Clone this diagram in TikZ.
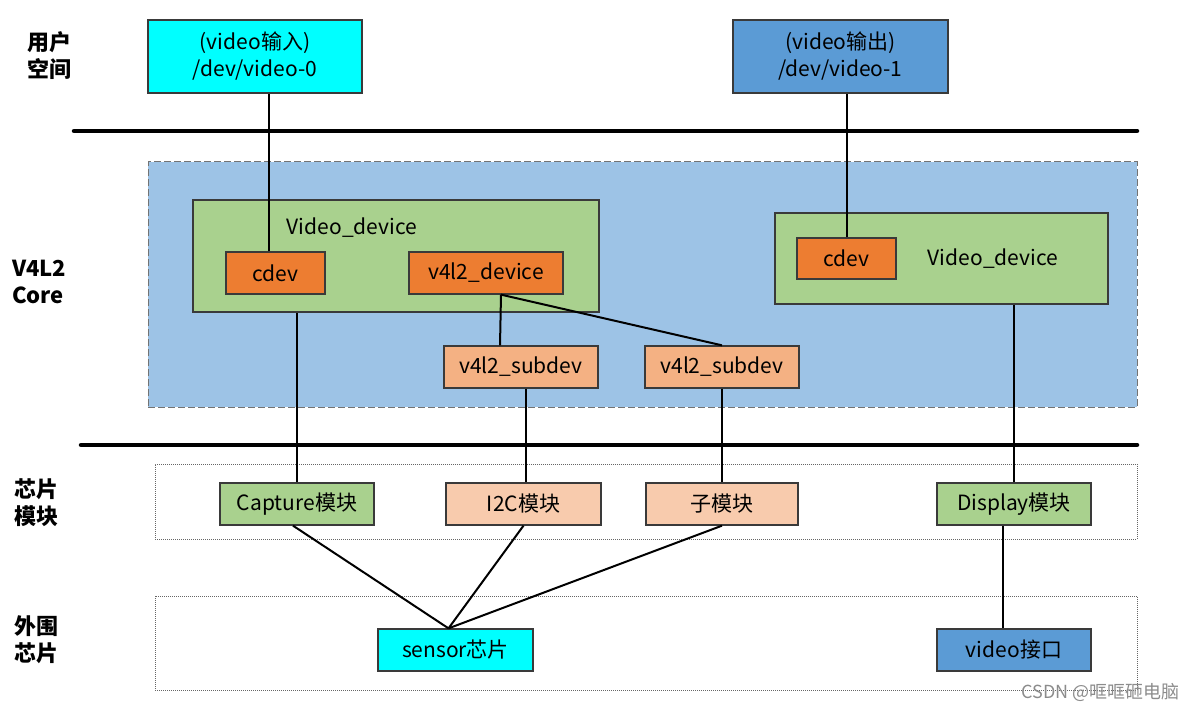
\documentclass[tikz,border=0pt]{standalone}
\usepackage{fontspec}
\setmainfont{Noto Sans CJK SC}
\usetikzlibrary{calc}
\definecolor{cyanbox}{HTML}{00FFFF}
\definecolor{bluebox}{HTML}{5B9BD5}
\definecolor{corefill}{HTML}{9DC3E6}
\definecolor{greenbox}{HTML}{A9D18E}
\definecolor{orangebox}{HTML}{ED7D31}
\definecolor{peachbox}{HTML}{F4B183}
\definecolor{lightpeach}{HTML}{F8CBAD}
\definecolor{bordc}{HTML}{3A3A3A}
\tikzset{
  box/.style={draw=bordc, line width=1.3pt, inner sep=0pt, align=center, font=\fontsize{21}{27}\selectfont, text=black},
  thin/.style={line width=2pt, black},
  thick/.style={line width=4.5pt, black, line cap=round},
  lbl/.style={font=\fontsize{22}{27}\selectfont\bfseries, align=left, anchor=west, inner sep=0pt},
  dotbox/.style={draw=black!60, densely dotted, line width=1pt},
}
\begin{document}
\begin{tikzpicture}[x=1pt,y=-1pt]
\useasboundingbox[fill=white] (0,0) rectangle (1193,711);
% layer labels
\node[lbl] (l1) at (27,56) {用户\\空间};
\node[lbl] (l2) at (12,282) {V4L2\\Core};
\node[lbl] (l3) at (14,503) {芯片\\模块};
\node[lbl] (l4) at (14,640) {外围\\芯片};
% separator lines
\coordinate (s1a) at (74,131); \coordinate (s1b) at (1137,131);
\coordinate (s2a) at (81,445); \coordinate (s2b) at (1137,445);
\draw[thick] (s1a) -- (s1b);
\draw[thick] (s2a) -- (s2b);
% core region
\node[draw=black!55, dash pattern=on 7pt off 3pt, line width=1pt, fill=corefill, minimum width=989pt, minimum height=245pt, inner sep=0pt] (core) at (642.5,284.5) {};
% chip / peripheral regions
\node[dotbox, minimum width=982pt, minimum height=75pt, inner sep=0pt] (chip) at (646,501.5) {};
\node[dotbox, minimum width=982pt, minimum height=94pt, inner sep=0pt] (peri) at (646,643) {};
% user space
\node[box, fill=cyanbox, minimum width=214pt, minimum height=73pt] (v0) at (255,56.5) {(video输入)\\/dev/video-0};
\node[box, fill=bluebox, minimum width=215pt, minimum height=73pt] (v1) at (840.5,56.5) {(video输出)\\/dev/video-1};
% core contents
\node[box, fill=greenbox, minimum width=406pt, minimum height=112pt] (vdL) at (396,256) {};
\node[font=\fontsize{21}{27}\selectfont, inner sep=0pt] (vdLt) at (352,228) {Video\_device};
\node[box, fill=orangebox, minimum width=99pt, minimum height=42pt] (cdevL) at (275.5,273) {cdev};
\node[box, fill=orangebox, minimum width=154pt, minimum height=42pt] (v4d) at (486,273) {v4l2\_device};
\node[box, fill=peachbox, minimum width=154pt, minimum height=42pt] (sub1) at (521,367) {v4l2\_subdev};
\node[box, fill=peachbox, minimum width=154pt, minimum height=42pt] (sub2) at (722,367) {v4l2\_subdev};
\node[box, fill=greenbox, minimum width=333pt, minimum height=91pt] (vdR) at (941.5,258.5) {};
\node[font=\fontsize{21}{27}\selectfont, inner sep=0pt] (vdRt) at (993,259) {Video\_device};
\node[box, fill=orangebox, minimum width=99pt, minimum height=41pt] (cdevR) at (846.5,258.5) {cdev};
% chip modules
\node[box, fill=greenbox, minimum width=154pt, minimum height=42pt] (cap) at (297,504) {Capture模块};
\node[box, fill=lightpeach, minimum width=155pt, minimum height=42pt] (i2c) at (523.5,504) {I2C模块};
\node[box, fill=lightpeach, minimum width=152pt, minimum height=42pt] (subm) at (722,504) {子模块};
\node[box, fill=greenbox, minimum width=154pt, minimum height=42pt] (disp) at (1014,504) {Display模块};
% peripherals
\node[box, fill=cyanbox, minimum width=155pt, minimum height=42pt] (sens) at (455.5,650) {sensor芯片};
\node[box, fill=bluebox, minimum width=154pt, minimum height=42pt] (vif) at (1014,650) {video接口};
% connectors
\coordinate (cLtop) at ([xshift=-6.5pt]cdevL.north);
\draw[thin] (cLtop) -- (cLtop |- v0.south);
\draw[thin] (cdevR.north) -- (cdevR.north |- v1.south);
\draw[thin] (cap.north) -- (cap.north |- vdL.south);
\coordinate (v4b) at ([xshift=15pt]v4d.south);
\draw[thin] (v4b) -- ([xshift=-21pt]sub1.north);
\draw[thin] (v4b) -- (sub2.north);
\coordinate (s1b2) at ([xshift=5pt]sub1.south);
\draw[thin] (s1b2) -- (s1b2 |- i2c.north);
\draw[thin] (sub2.south) -- (subm.north);
\draw[thin] (disp.north) -- (disp.north |- vdR.south);
\coordinate (sensTop) at ([xshift=-7pt]sens.north);
\draw[thin] ([xshift=-4pt]cap.south) -- (sensTop);
\draw[thin] (i2c.south) -- (sensTop);
\draw[thin] (subm.south) -- (sensTop);
\coordinate (dispB) at ([xshift=-11pt]disp.south);
\draw[thin] (dispB) -- (dispB |- vif.north);
% watermark
\node[font=\fontsize{18}{20}\selectfont, text=black!45, anchor=east, inner sep=0pt] (wm) at (1180,692) {CSDN @哐哐砸电脑};
\end{tikzpicture}
\end{document}
